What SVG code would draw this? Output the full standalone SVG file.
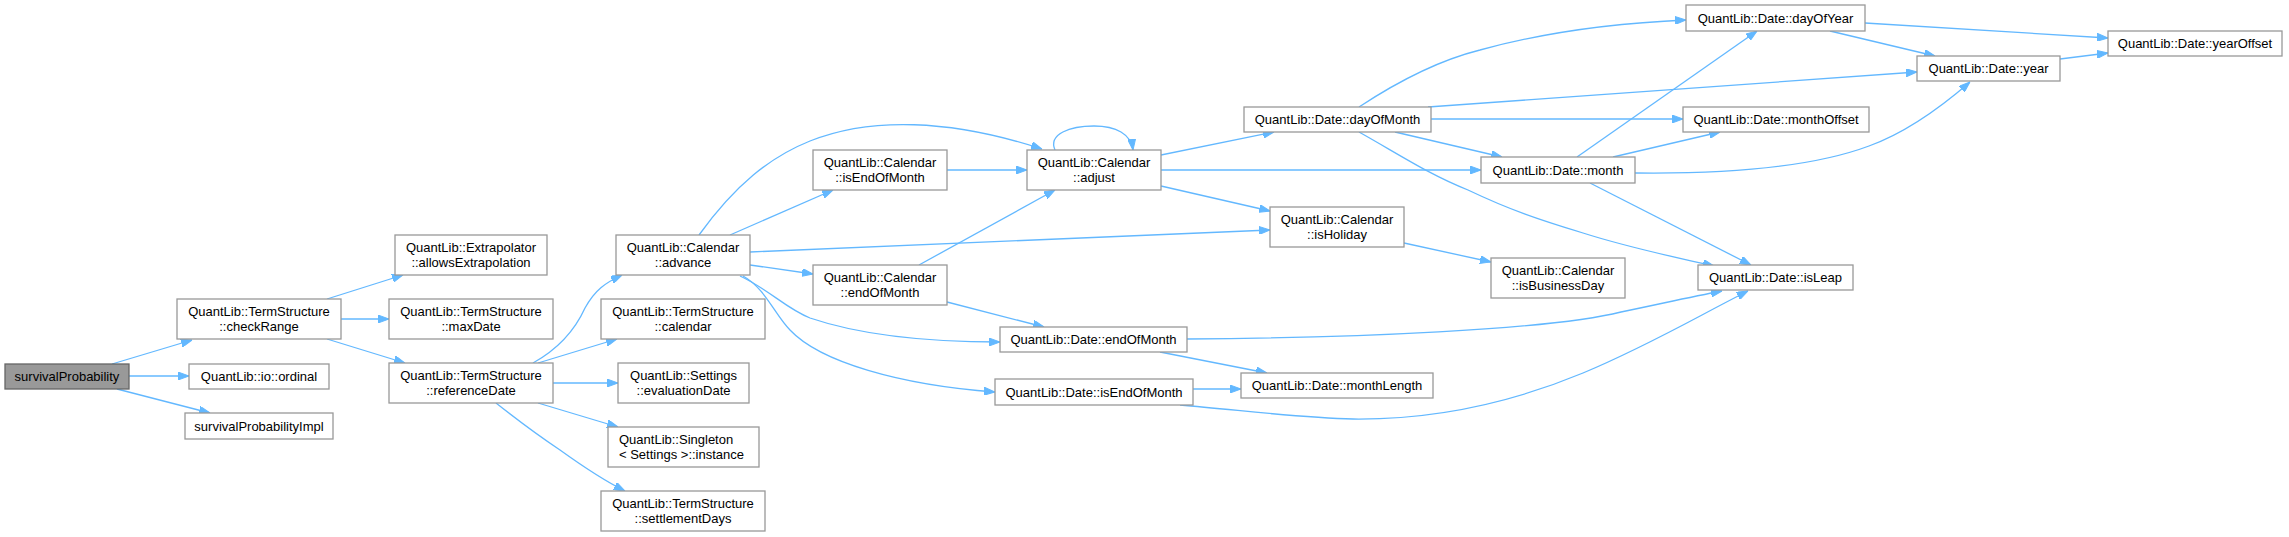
<svg xmlns="http://www.w3.org/2000/svg" width="2289" height="537" viewBox="0 0 2289 537">
<style>
.n rect{fill:#ffffff;stroke:#999999;stroke-width:1.3}
#n0 rect{fill:#999999;stroke:#666666}
text{font-family:"Liberation Sans",Arial,sans-serif;font-size:13px;fill:#000000;text-anchor:middle}
.e path{fill:none;stroke:#63b8ff;stroke-width:1.3;marker-end:url(#ah)}
</style>
<defs>
<marker id="ah" viewBox="0 0 11 8" refX="11" refY="4" markerWidth="11" markerHeight="8" markerUnits="userSpaceOnUse" orient="auto">
<path d="M0,0 L11,4 L0,8 z" fill="#63b8ff" stroke="#63b8ff" stroke-width="1"/>
</marker>
</defs>
<rect width="2289" height="537" fill="#ffffff"/>
<g class="e" id="edges">
<path d="M112,364 L192,340"/>
<path d="M129,376 L189,376"/>
<path d="M117,389 L210,413"/>
<path d="M327,299 L403,275"/>
<path d="M341,319 L389,319"/>
<path d="M327,339 L405,363"/>
<path d="M533,363 C560,348 575,330 585,308 C595,290 605,283 622,275"/>
<path d="M538,363 L617,339"/>
<path d="M553,383 L618,383"/>
<path d="M538,403 L618,427"/>
<path d="M496,403 C520,422 545,440 560,450 C585,468 605,481 625,491"/>
<path d="M699,235 C735,185 770,157 810,141 C870,117 950,119 1042,149"/>
<path d="M730,235 L833,190"/>
<path d="M750,252 L1270,230"/>
<path d="M750,265 L813,274"/>
<path d="M740,276 C770,290 785,308 810,318 C860,335 930,342 1000,342"/>
<path d="M743,276 C765,288 775,315 790,330 C820,362 900,385 995,392"/>
<path d="M947,170 L1027,170"/>
<path d="M1055,150 C1048,134 1070,126 1094,126 C1116,126 1131,134 1133,150"/>
<path d="M1161,155 L1274,132"/>
<path d="M1161,170 L1481,170"/>
<path d="M1161,186 L1270,211"/>
<path d="M919,265 L1055,190"/>
<path d="M947,302 L1044,327"/>
<path d="M1187,339 C1350,338 1550,330 1621,312 C1660,304 1690,297 1722,291"/>
<path d="M1160,352 L1267,373"/>
<path d="M1193,389 L1241,389"/>
<path d="M1180,405 C1240,410 1300,418 1353,419 C1450,420 1530,395 1583,373 C1650,345 1700,315 1748,291"/>
<path d="M1359,107 C1400,80 1440,60 1480,50 C1560,28 1640,22 1686,20"/>
<path d="M1428,107 L1917,72"/>
<path d="M1431,119 L1683,119"/>
<path d="M1395,132 L1502,157"/>
<path d="M1359,132 C1400,155 1430,175 1468,190 C1510,210 1540,220 1583,233 C1630,248 1670,256 1714,266"/>
<path d="M1404,243 L1491,262"/>
<path d="M1577,157 L1757,31"/>
<path d="M1613,157 L1720,132"/>
<path d="M1635,173 C1720,174 1810,168 1869,146 C1905,133 1940,108 1970,82"/>
<path d="M1590,183 L1751,265"/>
<path d="M1830,31 L1935,56"/>
<path d="M1865,23 L2108,38"/>
<path d="M2060,59 L2108,53"/>
</g>
<g class="n" id="n0"><rect x="5" y="364" width="124" height="25"/><text x="67" y="381">survivalProbability</text></g>
<g class="n" id="n1"><rect x="177" y="299" width="164" height="40"/><text x="259" y="315.5">QuantLib::TermStructure</text><text x="259" y="330.5">::checkRange</text></g>
<g class="n" id="n2"><rect x="189" y="364" width="140" height="25"/><text x="259" y="381">QuantLib::io::ordinal</text></g>
<g class="n" id="n3"><rect x="185" y="413" width="148" height="26"/><text x="259" y="430.5">survivalProbabilityImpl</text></g>
<g class="n" id="n4"><rect x="395" y="235" width="152" height="40"/><text x="471" y="251.5">QuantLib::Extrapolator</text><text x="471" y="266.5">::allowsExtrapolation</text></g>
<g class="n" id="n5"><rect x="389" y="299" width="164" height="40"/><text x="471" y="315.5">QuantLib::TermStructure</text><text x="471" y="330.5">::maxDate</text></g>
<g class="n" id="n6"><rect x="389" y="363" width="164" height="40"/><text x="471" y="379.5">QuantLib::TermStructure</text><text x="471" y="394.5">::referenceDate</text></g>
<g class="n" id="n7"><rect x="616" y="235" width="134" height="40"/><text x="683" y="251.5">QuantLib::Calendar</text><text x="683" y="266.5">::advance</text></g>
<g class="n" id="n8"><rect x="601" y="299" width="164" height="40"/><text x="683" y="315.5">QuantLib::TermStructure</text><text x="683" y="330.5">::calendar</text></g>
<g class="n" id="n9"><rect x="618" y="363" width="131" height="40"/><text x="683.5" y="379.5">QuantLib::Settings</text><text x="683.5" y="394.5">::evaluationDate</text></g>
<g class="n" id="n10"><rect x="608" y="427" width="151" height="40"/><text x="619" y="443.5" style="text-anchor:start">QuantLib::Singleton</text><text x="619" y="458.5" style="text-anchor:start">&lt; Settings &gt;::instance</text></g>
<g class="n" id="n11"><rect x="601" y="491" width="164" height="40"/><text x="683" y="507.5">QuantLib::TermStructure</text><text x="683" y="522.5">::settlementDays</text></g>
<g class="n" id="n12"><rect x="813" y="150" width="134" height="40"/><text x="880" y="166.5">QuantLib::Calendar</text><text x="880" y="181.5">::isEndOfMonth</text></g>
<g class="n" id="n13"><rect x="1027" y="150" width="134" height="40"/><text x="1094" y="166.5">QuantLib::Calendar</text><text x="1094" y="181.5">::adjust</text></g>
<g class="n" id="n14"><rect x="813" y="265" width="134" height="40"/><text x="880" y="281.5">QuantLib::Calendar</text><text x="880" y="296.5">::endOfMonth</text></g>
<g class="n" id="n15"><rect x="1000" y="327" width="187" height="25"/><text x="1093.5" y="344">QuantLib::Date::endOfMonth</text></g>
<g class="n" id="n16"><rect x="995" y="379" width="198" height="26"/><text x="1094" y="396.5">QuantLib::Date::isEndOfMonth</text></g>
<g class="n" id="n17"><rect x="1244" y="107" width="187" height="25"/><text x="1337.5" y="124">QuantLib::Date::dayOfMonth</text></g>
<g class="n" id="n18"><rect x="1270" y="207" width="134" height="40"/><text x="1337" y="223.5">QuantLib::Calendar</text><text x="1337" y="238.5">::isHoliday</text></g>
<g class="n" id="n19"><rect x="1481" y="157" width="154" height="26"/><text x="1558" y="174.5">QuantLib::Date::month</text></g>
<g class="n" id="n20"><rect x="1491" y="258" width="134" height="40"/><text x="1558" y="274.5">QuantLib::Calendar</text><text x="1558" y="289.5">::isBusinessDay</text></g>
<g class="n" id="n21"><rect x="1241" y="373" width="192" height="25"/><text x="1337" y="390">QuantLib::Date::monthLength</text></g>
<g class="n" id="n22"><rect x="1686" y="5" width="179" height="26"/><text x="1775.5" y="22.5">QuantLib::Date::dayOfYear</text></g>
<g class="n" id="n23"><rect x="1683" y="107" width="186" height="25"/><text x="1776" y="124">QuantLib::Date::monthOffset</text></g>
<g class="n" id="n24"><rect x="1698" y="265" width="155" height="25"/><text x="1775.5" y="282">QuantLib::Date::isLeap</text></g>
<g class="n" id="n25"><rect x="1917" y="56" width="143" height="25"/><text x="1988.5" y="73">QuantLib::Date::year</text></g>
<g class="n" id="n26"><rect x="2108" y="31" width="174" height="25"/><text x="2195" y="48">QuantLib::Date::yearOffset</text></g>
</svg>
